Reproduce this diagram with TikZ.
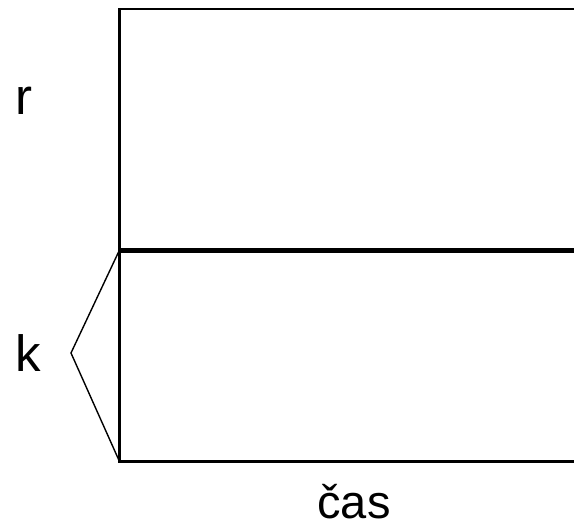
\documentclass[tikz,border=0pt]{standalone}
\usepackage{fontspec}
\setmainfont{Liberation Sans}
\begin{document}
\begin{tikzpicture}[x=1pt,y=-1pt,
  thinline/.style={line width=2.2pt, line cap=rect},
  thickline/.style={line width=5pt},
  bracket/.style={line width=1.4pt, line join=miter},
  biglabel/.style={inner sep=0pt, anchor=base west, font=\fontsize{51}{60}\selectfont},
  timelabel/.style={inner sep=0pt, anchor=base, font=\fontsize{47}{56}\selectfont}]
\useasboundingbox (0,0) rectangle (574,527);
\coordinate (tl) at (119.5,9);
\coordinate (tr) at (580,9);
\coordinate (ml) at (119.5,250);
\coordinate (mr) at (580,250);
\coordinate (bl) at (119.5,461.5);
\coordinate (br) at (580,461.5);
\coordinate (tip) at (71,353);
\draw[thinline] (tr) -- (tl) -- (bl) -- (br);
\draw[thickline] (ml) -- (mr);
\draw[bracket] (ml) -- (tip) -- (bl);
\node[biglabel] (r) at (15,114) {r};
\node[biglabel] (k) at (15,371) {k};
\node[timelabel] (cas) at (354,518) {čas};
\end{tikzpicture}
\end{document}
